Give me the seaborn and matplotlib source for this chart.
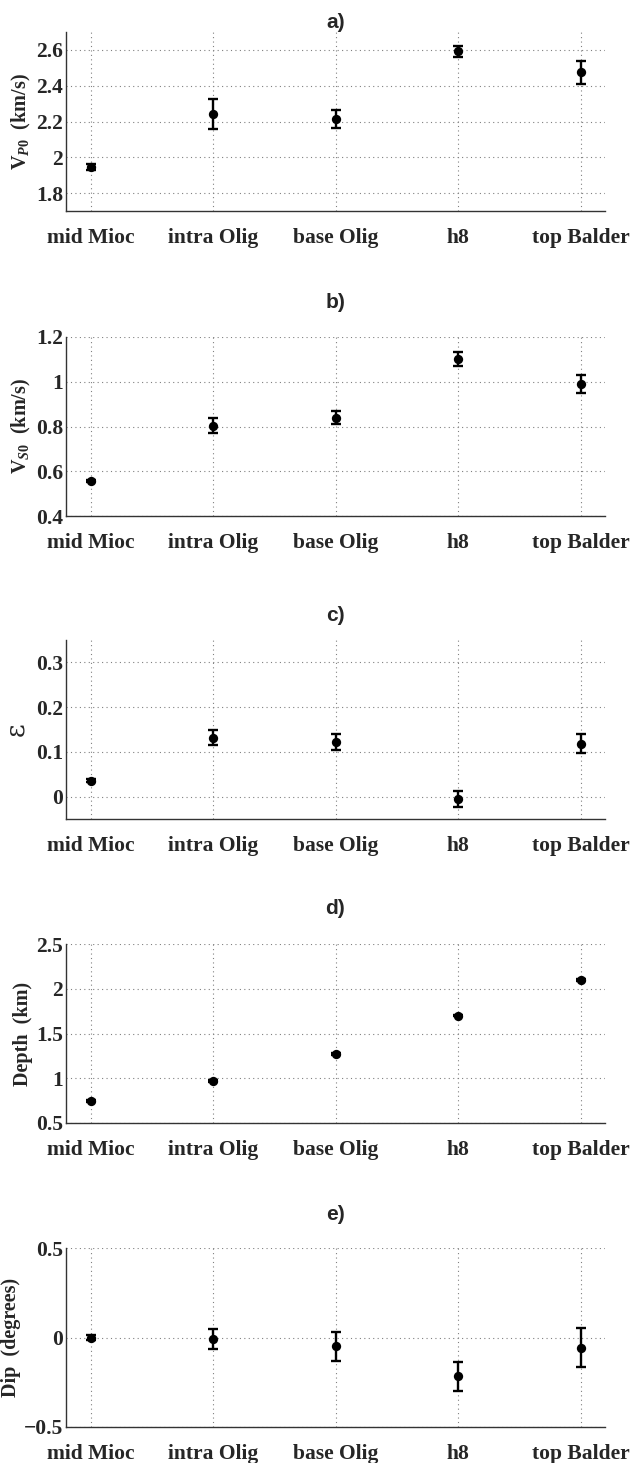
import numpy as np
import pandas as pd
import matplotlib
matplotlib.use("Agg")
import matplotlib.pyplot as plt
import seaborn as sns

# Horizons along the profile
horizons = ["mid Mioc", "intra Olig", "base Olig", "h8", "top Balder"]

# a) P-wave velocity (km/s) and uncertainty
vp0 = [1.946, 2.240, 2.214, 2.592, 2.475]
vp0_err = [0.015, 0.083, 0.050, 0.030, 0.064]

# b) S-wave velocity (km/s) and uncertainty
vs0 = [0.557, 0.804, 0.839, 1.100, 0.988]
vs0_err = [0.006, 0.034, 0.029, 0.031, 0.040]

# c) epsilon and uncertainty
eps = [0.036, 0.132, 0.122, -0.005, 0.118]
eps_err = [0.004, 0.017, 0.018, 0.018, 0.021]

# d) depth (km) and uncertainty
depth = [0.746, 0.970, 1.272, 1.698, 2.100]
depth_err = [0.008, 0.008, 0.008, 0.008, 0.008]

# e) dip (degrees) and uncertainty
dip = [0.000, -0.009, -0.050, -0.217, -0.056]
dip_err = [0.012, 0.057, 0.079, 0.080, 0.107]

sns.set_style("white")
plt.rcParams["font.family"] = ["Liberation Serif", "DejaVu Serif"]
plt.rcParams["mathtext.fontset"] = "custom"
plt.rcParams["mathtext.rm"] = "Liberation Serif:bold"
plt.rcParams["mathtext.it"] = "Liberation Serif:bold:italic"
plt.rcParams["mathtext.bf"] = "Liberation Serif:bold"

W, H = 631, 1463
fig = plt.figure(figsize=(W / 100, H / 100), dpi=100)

panels = [
    dict(tag="a)", y=vp0, e=vp0_err, ylim=(1.7, 2.7),
         ticks=[1.8, 2.0, 2.2, 2.4, 2.6], labels=["1.8", "2", "2.2", "2.4", "2.6"],
         ylabel=r"$\mathrm{V}_{P0}$  (km/s)", top=32, tgap=9),
    dict(tag="b)", y=vs0, e=vs0_err, ylim=(0.4, 1.2),
         ticks=[0.4, 0.6, 0.8, 1.0, 1.2], labels=["0.4", "0.6", "0.8", "1", "1.2"],
         ylabel=r"$\mathrm{V}_{S0}$  (km/s)", top=337, tgap=34),
    dict(tag="c)", y=eps, e=eps_err, ylim=(-0.05, 0.35),
         ticks=[0.0, 0.1, 0.2, 0.3], labels=["0", "0.1", "0.2", "0.3"],
         ylabel="\u03b5", top=640, tgap=25),
    dict(tag="d)", y=depth, e=depth_err, ylim=(0.5, 2.5),
         ticks=[0.5, 1.0, 1.5, 2.0, 2.5], labels=["0.5", "1", "1.5", "2", "2.5"],
         ylabel="Depth  (km)", top=944, tgap=35),
    dict(tag="e)", y=dip, e=dip_err, ylim=(-0.5, 0.5),
         ticks=[-0.5, 0.0, 0.5], labels=["\u22120.5", "0", "0.5"],
         ylabel="Dip  (degrees)", top=1248, tgap=33),
]

left_px, right_px, height_px = 66, 605, 179
xpos = np.arange(len(horizons))

for p in panels:
    bottom = 1 - (p["top"] + height_px) / H
    ax = fig.add_axes([left_px / W, bottom, (right_px - left_px) / W, height_px / H])
    df = pd.DataFrame({"x": xpos, "y": p["y"], "err": p["e"]})

    ax.errorbar(df["x"], df["y"], yerr=df["err"], fmt="none", ecolor="black",
                elinewidth=1.7, capsize=3.8, capthick=1.7, zorder=3)
    sns.scatterplot(data=df, x="x", y="y", ax=ax, color="black", s=45,
                    edgecolor="black", linewidth=0, zorder=4, legend=False)

    ax.set_xlim(-0.2, 4.2)
    ax.set_ylim(*p["ylim"])
    ax.set_xticks(xpos)
    ax.set_xticklabels(horizons, fontsize=15.5, fontweight="bold")
    ax.set_yticks(p["ticks"])
    ax.set_yticklabels(p["labels"], fontsize=15.5, fontweight="bold")
    ax.set_xlabel("")

    if p["tag"] == "c)":
        ax.set_ylabel(p["ylabel"], fontsize=19, fontweight="normal",
                      family=["DejaVu Serif"], labelpad=6)
    else:
        ax.set_ylabel(p["ylabel"], fontsize=14.5, fontweight="bold", labelpad=2)

    ax.grid(True, linestyle=(0, (1, 3)), color="#808080", linewidth=0.8)
    ax.set_axisbelow(True)
    for side in ("top", "right"):
        ax.spines[side].set_visible(False)
    for side in ("left", "bottom"):
        ax.spines[side].set_color("#333333")
        ax.spines[side].set_linewidth(1.0)
    ax.tick_params(axis="both", direction="in", length=4, width=0.8, color="#333333")
    ax.tick_params(axis="x", pad=12.5)
    ax.tick_params(axis="y", pad=2)

    ax.text(0.5, 1 + p["tgap"] / height_px, p["tag"], transform=ax.transAxes,
            ha="center", va="center", fontsize=15, fontweight="bold",
            family=["Liberation Sans", "DejaVu Sans"])

fig.savefig("out.png", dpi=100, facecolor="white")
